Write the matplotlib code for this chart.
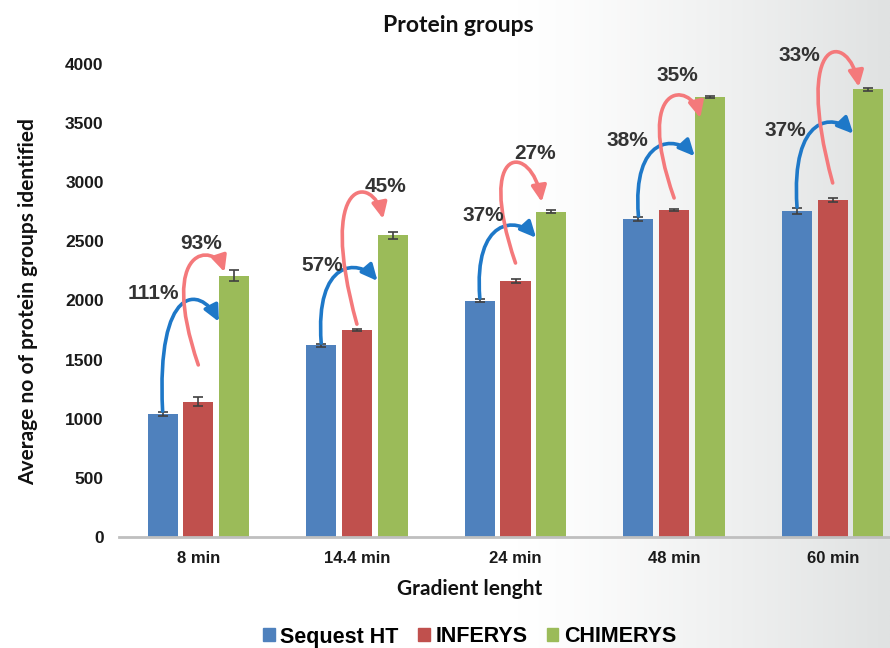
import numpy as np
import matplotlib
matplotlib.use("Agg")
import matplotlib.pyplot as plt
from matplotlib.path import Path
from matplotlib.patches import FancyArrowPatch, Patch
from matplotlib.colors import LinearSegmentedColormap

# ---------------- data ----------------
categories = ["8 min", "14.4 min", "24 min", "48 min", "60 min"]
series = ["Sequest HT", "INFERYS", "CHIMERYS"]
sequest = [1040, 1620, 2000, 2690, 2755]
inferys = [1145, 1750, 2165, 2765, 2850]
chimerys = [2210, 2550, 2750, 3720, 3785]
sequest_err = [15, 10, 10, 15, 25]
inferys_err = [35, 10, 20, 10, 15]
chimerys_err = [45, 30, 12, 10, 10]
gain_vs_sequest = ["111%", "57%", "37%", "38%", "37%"]
gain_vs_inferys = ["93%", "45%", "27%", "35%", "33%"]
yticks = [0, 500, 1000, 1500, 2000, 2500, 3000, 3500, 4000]

# annotation placement (arrow heights and label anchors)
blue_arrow_peak = [1960, 2240, 2600, 3290, 3460]
blue_arrow_end = [1820, 2165, 2530, 3220, 3410]
red_arrow_start = [1455, 1800, 2317, 2867, 2994]
red_arrow_peak = [2325, 2860, 3146, 3695, 4059]
red_arrow_end = [2240, 2690, 2833, 3543, 3806]
blue_label_dx = [-0.284, -0.22, -0.20, -0.296, -0.30]
blue_label_y = [2063, 2292, 2723, 3349, 3440]
red_label_dx = [0.02, 0.18, 0.126, 0.02, -0.21]
red_label_y = [2486, 2968, 3247, 3899, 4068]

colors = ["#4F81BD", "#C0504D", "#9BBB59"]
blue_arrow_col = "#1E78C8"
red_arrow_col = "#F4797B"

W, H = 890, 648
fig = plt.figure(figsize=(W / 100, H / 100), dpi=100)

# background gradient
bg = fig.add_axes([0, 0, 1, 1], zorder=-10)
xs = np.linspace(0, 1, 600)
g = np.clip((xs - 0.58) / 0.42, 0, 1) ** 1.2
grad = np.tile(g, (10, 1))
cmap = LinearSegmentedColormap.from_list("bg", ["#FFFFFF", "#E0E2E2"])
bg.imshow(grad, aspect="auto", cmap=cmap, extent=[0, 1, 0, 1], vmin=0, vmax=1)
bg.axis("off")

# main axes (extends a bit beyond the right edge like the cropped original)
left_px, right_px, bottom_px, top_px = 119, 912, 537, 64
ax = fig.add_axes([left_px / W, 1 - bottom_px / H,
                   (right_px - left_px) / W, (bottom_px - top_px) / H])
ax.patch.set_alpha(0)

x = np.arange(len(categories))
bw = 0.19
off = 0.225
vals = [sequest, inferys, chimerys]
errs = [sequest_err, inferys_err, chimerys_err]
for i, (v, e) in enumerate(zip(vals, errs)):
    ax.bar(x + (i - 1) * off, v, bw, color=colors[i], label=series[i],
           yerr=e, capsize=3.5,
           error_kw=dict(ecolor="#404040", elinewidth=1.2, capthick=1.2),
           zorder=2)

ax.set_xlim(-0.5, len(categories) - 0.5)
ax.set_ylim(0, 4000)
ax.set_yticks(yticks)
ax.set_xticks(x)
ax.set_xticklabels(categories)
for s in ["top", "right", "left"]:
    ax.spines[s].set_visible(False)
ax.spines["bottom"].set_color("#BFBFBF")
ax.spines["bottom"].set_linewidth(2)
ax.tick_params(axis="both", length=0)
ax.tick_params(axis="y", pad=11)
ax.tick_params(axis="x", pad=10)
for lab in ax.get_yticklabels():
    lab.set_fontfamily("Liberation Sans")
    lab.set_fontweight("bold")
    lab.set_fontsize(12.5)
    lab.set_color("#1a1a1a")
for lab in ax.get_xticklabels():
    lab.set_fontfamily("Liberation Sans")
    lab.set_fontweight("bold")
    lab.set_fontsize(12)
    lab.set_color("#1a1a1a")


def curved(x0, y0, x3, y3, yp, dx1, dx2, color):
    c = (8 * yp - y0 - y3) / 6.0
    verts = [(x0, y0), (x0 + dx1, c), (x3 + dx2, c), (x3, y3)]
    path = Path(verts, [Path.MOVETO, Path.CURVE4, Path.CURVE4, Path.CURVE4])
    arr = FancyArrowPatch(path=path, arrowstyle="-|>,head_length=0.8,head_width=0.38",
                          mutation_scale=12, color=color, lw=2.6,
                          transform=ax.transData, clip_on=False, zorder=4)
    ax.add_patch(arr)


for k in range(len(categories)):
    xb = x[k] - off
    xr = x[k]
    xg = x[k] + off
    # blue arrow: Sequest -> CHIMERYS
    curved(xb, sequest[k] + sequest_err[k] + 10, xg - bw / 2, blue_arrow_end[k],
           blue_arrow_peak[k], -0.04, -0.12, blue_arrow_col)
    # red arrow: INFERYS -> CHIMERYS
    curved(xr, red_arrow_start[k], xg - 0.06, red_arrow_end[k],
           red_arrow_peak[k], -0.26, -0.06, red_arrow_col)
    ax.text(x[k] + blue_label_dx[k], blue_label_y[k], gain_vs_sequest[k],
            ha="center", va="center", fontsize=15, fontweight="bold",
            family="Liberation Sans", color="#333333", zorder=5, clip_on=False)
    ax.text(x[k] + red_label_dx[k], red_label_y[k], gain_vs_inferys[k],
            ha="center", va="center", fontsize=15, fontweight="bold",
            family="Liberation Sans", color="#333333", zorder=5, clip_on=False)

fig.text(458 / W, 1 - 26 / H, "Protein groups", ha="center", va="center",
         fontsize=16.5, fontweight="bold", family="Lato", color="#111111")
fig.text(470 / W, 1 - 589 / H, "Gradient lenght", ha="center", va="center",
         fontsize=15, fontweight="bold", family="Lato", color="#111111")
fig.text(28 / W, 1 - 302 / H, "Average no of protein groups identified",
         ha="center", va="center", rotation=90,
         fontsize=15, fontweight="bold", family="Lato", color="#111111")

handles = [Patch(color=c) for c in colors]
fig.legend(handles, series, loc="center", bbox_to_anchor=(469.5 / W, 1 - 637 / H),
           ncol=3, frameon=False, handlelength=0.55, handleheight=0.55,
           handletextpad=0.25, columnspacing=0.9,
           prop=dict(family="Liberation Sans", weight="bold", size=15.5))

fig.savefig("out.png", dpi=100)
